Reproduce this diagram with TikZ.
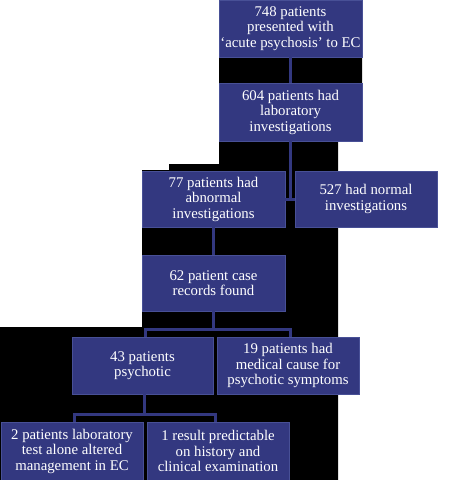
\documentclass[tikz,border=0pt]{standalone}
\usepackage{fontspec}
\setmainfont{Liberation Serif}
\definecolor{boxblue}{RGB}{51,56,128}
\definecolor{edgeblue}{RGB}{72,80,150}
\begin{document}
\begin{tikzpicture}[x=1pt,y=-1pt,
  box/.style={fill=boxblue,draw=edgeblue,line width=0.6pt,inner sep=0pt,align=center,text=white,
    font=\fontsize{14.8}{15.5}\selectfont},
  conn/.style={draw=boxblue,line width=3pt}]
\useasboundingbox[fill=white] (0,0) rectangle (448,480);
\fill[black] (219,0) -- (362,0) -- (362,141) -- (338,141) -- (338,480) -- (0,480) -- (0,327)
  -- (142,327) -- (142,170) -- (169,170) -- (169,164) -- (219,164) -- cycle;
\node[box,minimum width=143pt,minimum height=57pt] (b1) at (290.5,28.5) {748 patients\\presented with\\`acute psychosis' to EC};
\node[box,minimum width=143pt,minimum height=58pt] (b2) at (290.5,112) {604 patients had\\laboratory\\investigations};
\node[box,minimum width=143pt,minimum height=56pt] (b77) at (213.5,199) {77 patients had\\abnormal\\investigations};
\node[box,minimum width=142pt,minimum height=56pt] (b527) at (366,199) {527 had normal\\investigations};
\node[box,minimum width=143pt,minimum height=56pt] (b62) at (213.5,283) {62 patient case\\records found};
\node[box,minimum width=141pt,minimum height=57pt] (b43) at (142.5,365.5) {43 patients\\psychotic};
\node[box,minimum width=142pt,minimum height=57pt] (b19) at (288,365.5) {19 patients had\\medical cause for\\psychotic symptoms};
\node[box,minimum width=142pt,minimum height=58pt] (b2p) at (72,451) {2 patients laboratory\\test alone altered\\management in EC};
\node[box,minimum width=142pt,minimum height=58pt] (b1r) at (218,451) {1 result predictable\\on history and\\clinical examination};
\coordinate (j2) at (213.5,329);
\coordinate (j3) at (144,414);
\draw[conn] (b1) -- (b2);
\draw[conn] (b2.south) -- (b2.south |- b77.east);
\draw[conn] (b77.east) -- (b527.west);
\draw[conn] (b77) -- (b62);
\draw[conn] (b62.south) -- (j2);
\draw[conn] ([xshift=2.5pt]b43.north) |- (j2) -| ([xshift=2pt]b19.north);
\draw[conn] ([xshift=1.5pt]b43.south) -- (j3);
\draw[conn] ([xshift=2.5pt]b2p.north) |- (j3) -| ([xshift=-2.5pt]b1r.north);
\end{tikzpicture}
\end{document}
